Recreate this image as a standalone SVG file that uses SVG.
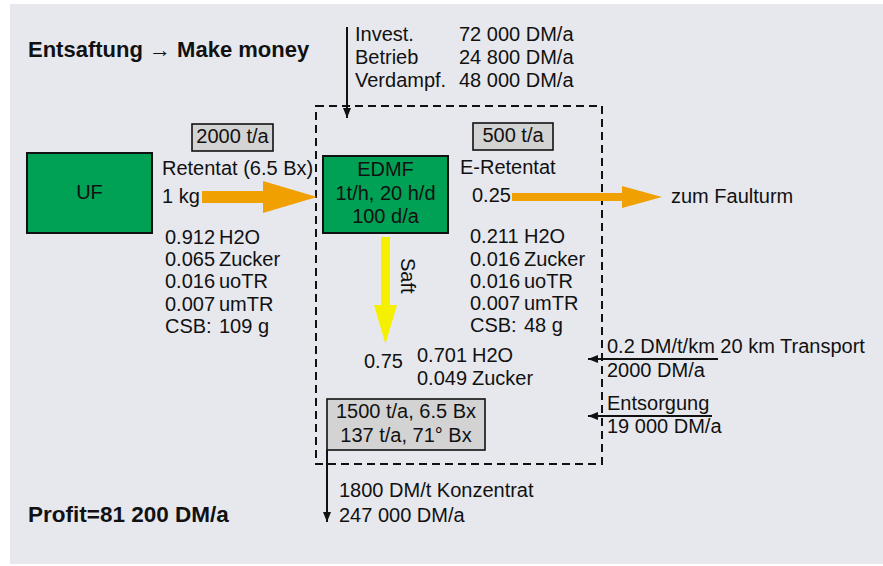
<svg xmlns="http://www.w3.org/2000/svg" width="883" height="566" viewBox="0 0 883 566">
<style>
text{font-family:"Liberation Sans",Arial,sans-serif;font-size:20px;fill:#111}
.b{font-weight:bold;font-size:22px}
.c{text-anchor:middle}
.gbox{fill:#d3d3d3;stroke:#111;stroke-width:1.6}
.node{fill:#00a055;stroke:#111;stroke-width:2}
.ln{stroke:#111;stroke-width:2;fill:none}
</style>
<defs>
<marker id="ah" viewBox="0 0 10 8" refX="10" refY="4" markerWidth="10" markerHeight="8" markerUnits="userSpaceOnUse" orient="auto">
<path d="M0,0 L10,4 L0,8 Z" fill="#111"/>
</marker>
</defs>
<rect x="10" y="4" width="873" height="560" fill="#e7e8ee"/>
<text class="b" x="28" y="57">Entsaftung → Make money</text>
<g id="costs">
<text x="355" y="41">Invest.</text>
<text x="459" y="41">72 000 DM/a</text>
<text x="355" y="64">Betrieb</text>
<text x="459" y="64">24 800 DM/a</text>
<text x="355" y="87">Verdampf.</text>
<text x="459" y="87">48 000 DM/a</text>
</g>
<g id="boundary">
<rect x="316" y="106" width="286" height="358" fill="none" stroke="#111" stroke-width="2" stroke-dasharray="8 5"/>
</g>
<g id="connectors">
<line class="ln" x1="347" y1="27" x2="347" y2="118" marker-end="url(#ah)"/>
<path d="M202,191 H263 V181 L317,197 L263,213 V203 H202 Z" fill="#f0a000"/>
<path d="M512,193 H622 V186 L662,197 L622,208 V201 H512 Z" fill="#f0a000"/>
<path d="M381,237 H390 V305 H397 L385.5,344 L374,305 H381 Z" fill="#f5f000"/>
<line class="ln" x1="718" y1="359" x2="588" y2="359" marker-end="url(#ah)"/>
<line class="ln" x1="712" y1="416" x2="588" y2="416" marker-end="url(#ah)"/>
<line class="ln" x1="327" y1="450" x2="327" y2="522" marker-end="url(#ah)"/>
</g>
<g id="uf">
<rect class="node" x="27" y="153" width="125" height="80"/>
<text class="c" x="89.5" y="199">UF</text>
</g>
<g id="edmf">
<rect class="node" x="323" y="156" width="125" height="77"/>
<text class="c" x="385.5" y="176">EDMF</text>
<text class="c" x="385.5" y="200">1t/h, 20 h/d</text>
<text class="c" x="385.5" y="223">100 d/a</text>
</g>
<g id="box2000">
<rect class="gbox" x="192" y="124" width="81" height="27"/>
<text class="c" x="232.5" y="143">2000 t/a</text>
</g>
<g id="box500">
<rect class="gbox" x="473" y="123" width="80" height="27"/>
<text class="c" x="513" y="142">500 t/a</text>
</g>
<g id="boxconc">
<rect class="gbox" x="327" y="399" width="158" height="51"/>
<text class="c" x="406" y="418">1500 t/a, 6.5 Bx</text>
<text class="c" x="406" y="442">137 t/a, 71° Bx</text>
</g>
<g id="retentat">
<text x="162" y="175">Retentat (6.5 Bx)</text>
<text x="162" y="203">1 kg</text>
<text x="165" y="244">0.912</text><text x="219" y="244">H2O</text>
<text x="165" y="266">0.065</text><text x="219" y="266">Zucker</text>
<text x="165" y="288">0.016</text><text x="219" y="288">uoTR</text>
<text x="165" y="311">0.007</text><text x="219" y="311">umTR</text>
<text x="165" y="333">CSB:</text><text x="219" y="333">109 g</text>
</g>
<g id="eretentat">
<text x="460" y="174">E-Retentat</text>
<text x="472" y="202">0.25</text>
<text x="470" y="243">0.211</text><text x="524" y="243">H2O</text>
<text x="470" y="266">0.016</text><text x="524" y="266">Zucker</text>
<text x="470" y="288">0.016</text><text x="524" y="288">uoTR</text>
<text x="470" y="310">0.007</text><text x="524" y="310">umTR</text>
<text x="470" y="332">CSB:</text><text x="524" y="332">48 g</text>
<text x="671" y="203">zum Faulturm</text>
</g>
<g id="saft">
<text x="401" y="258" transform="rotate(90 401 258)">Saft</text>
<text x="364" y="368">0.75</text>
<text x="417" y="362">0.701</text><text x="472" y="362">H2O</text>
<text x="417" y="385">0.049</text><text x="472" y="385">Zucker</text>
</g>
<g id="transport">
<text x="607" y="353">0.2 DM/t/km 20 km Transport</text>
<text x="607" y="377">2000 DM/a</text>
<text x="607" y="410">Entsorgung</text>
<text x="607" y="433">19 000 DM/a</text>
</g>
<g id="sale">
<text x="339" y="497">1800 DM/t Konzentrat</text>
<text x="339" y="522">247 000 DM/a</text>
</g>
<text class="b" x="28" y="522" style="font-size:22.5px">Profit=81 200 DM/a</text>
</svg>
